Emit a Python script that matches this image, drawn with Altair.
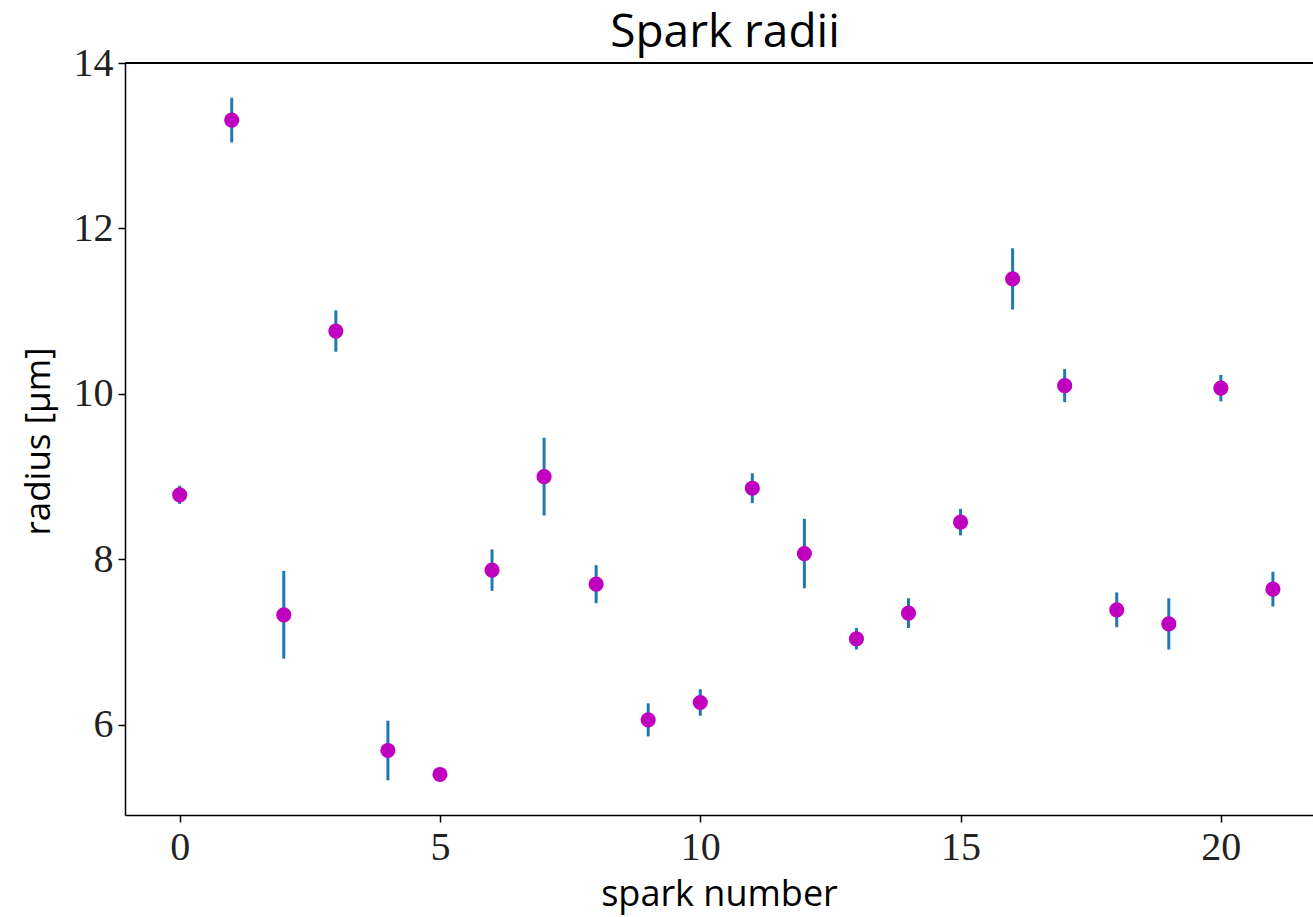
import altair as alt
import pandas as pd

spark = list(range(22))
radius = [8.78, 13.31, 7.33, 10.76, 5.69, 5.40, 7.87, 9.00, 7.70, 6.06, 6.27,
          8.86, 8.07, 7.04, 7.35, 8.45, 11.39, 10.10, 7.39, 7.22, 10.07, 7.64]
err = [0.11, 0.27, 0.53, 0.25, 0.36, 0.0, 0.25, 0.47, 0.23, 0.20, 0.16,
       0.18, 0.42, 0.13, 0.18, 0.16, 0.37, 0.20, 0.21, 0.31, 0.16, 0.21]
title_text = ["Spark radii"]

df = pd.DataFrame({"spark": spark, "radius": radius, "err": err})
df["lo"] = df["radius"] - df["err"]
df["hi"] = df["radius"] + df["err"]

serif = "Liberation Serif"
sans = "Open Sans"

xscale = alt.Scale(domain=[-1.05, 21.77], nice=False, zero=False)
yscale = alt.Scale(domain=[4.91, 14.0], nice=False, zero=False)

xaxis = alt.Axis(values=[0, 5, 10, 15, 20], title="spark number", grid=False,
                 labelFont=serif, labelFontSize=40, labelColor="#222",
                 titleFont=sans, titleFontSize=36, titleFontWeight="normal",
                 titleColor="black", tickSize=7, tickWidth=1.5, tickColor="black",
                 domainColor="black", domainWidth=1.5, labelPadding=5,
                 titleY=90, titleBaseline="alphabetic", format="d")
yaxis = alt.Axis(values=[6, 8, 10, 12, 14], title="radius [μm]", grid=False,
                 labelFont=serif, labelFontSize=40, labelColor="#222",
                 titleFont=sans, titleFontSize=35, titleFontWeight="normal",
                 titleColor="black", tickSize=7, tickWidth=1.5, tickColor="black",
                 domainColor="black", domainWidth=1.5, labelPadding=5,
                 titleX=-87, titleY=378, titleAngle=-90, titleAlign="center",
                 titleBaseline="middle", format="d")

bars = alt.Chart(df).mark_rule(color="#1f77b4", strokeWidth=3).encode(
    x=alt.X("spark:Q", scale=xscale, axis=xaxis),
    y=alt.Y("lo:Q", scale=yscale, axis=yaxis),
    y2="hi:Q",
)
pts = alt.Chart(df).mark_circle(color="#bf00bf", opacity=1, size=230).encode(
    x=alt.X("spark:Q", scale=xscale),
    y=alt.Y("radius:Q", scale=yscale),
)

top = alt.Chart(df).mark_rule(color="black", strokeWidth=1.5).encode(
    x=alt.value(0), x2=alt.value(1188), y=alt.value(0)
)

title = alt.Chart(pd.DataFrame({"t": title_text})).mark_text(
    font=sans, fontSize=46, color="black", align="center", baseline="alphabetic"
).encode(text="t:N", x=alt.value(600), y=alt.value(-16))

chart = alt.layer(bars, pts, top, title).properties(
    width=1188, height=752,
    autosize=alt.AutoSizeParams(type="none"),
    padding={"left": 125, "top": 63, "right": 0, "bottom": 102},
).configure_view(stroke=None)

chart.save("out.html", embed_options={"renderer": "svg", "actions": False})
